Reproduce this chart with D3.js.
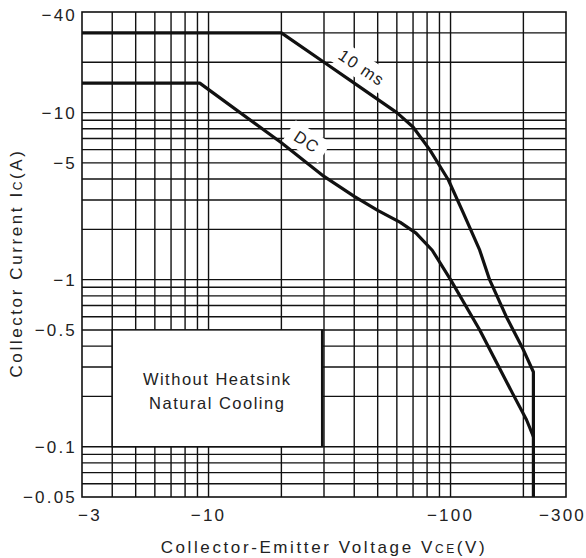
<!DOCTYPE html>
<html>
<head>
<meta charset="UTF-8">
<title>Safe Operating Area</title>
<style>
    body {
        margin: 0;
        background-color: white;
    }
    svg {
        display: block;
        font-family: "Liberation Sans", Arial, sans-serif;
    }
</style>
</head>
<body>
<svg></svg>
<script src="https://d3js.org/d3.v7.min.js"></script>
<script>
    // |VCE| in volts and |IC| in amps
    let pulseV = [3, 20, 30, 40, 50, 60, 70, 82, 98, 113, 132, 145, 170, 200, 220, 220];
    let pulseI = [30, 30, 20, 15, 12, 10, 8.2, 6.0, 3.95, 2.5, 1.5, 1.0, 0.6, 0.38, 0.28, 0.05];
    let dcV = [3, 9.2, 20, 30, 40, 50, 62, 72, 84, 100, 132, 180, 206, 220];
    let dcI = [15, 15, 6.6, 4.15, 3.15, 2.6, 2.2, 1.9, 1.5, 1.0, 0.5, 0.21, 0.145, 0.115];

    let xTicks = [3, 10, 100, 300];
    let yTicks = [40, 10, 5, 1, 0.5, 0.1, 0.05];
    let xGrid = [4, 5, 6, 7, 8, 9, 10, 20, 30, 40, 50, 60, 70, 80, 90, 100, 200];
    let yGrid = [0.06, 0.07, 0.08, 0.09, 0.1, 0.2, 0.3, 0.4, 0.5, 0.6, 0.7, 0.8, 0.9,
                 1, 2, 3, 4, 5, 6, 7, 8, 9, 10, 20, 30];

    let width = 586, height = 558;
    let ink = "#111";

    let svg = d3.select("svg")
        .attr("width", width)
        .attr("height", height);

    let x = d3.scaleLog().domain([3, 300]).range([82, 566]);
    let y = d3.scaleLog().domain([0.05, 40]).range([497, 12]);

    let fmt = v => "\u2212" + v;

    // grid
    let grid = svg.append("g")
        .attr("stroke", ink)
        .attr("stroke-width", 1.4);

    grid.selectAll(".gx")
        .data(xGrid)
        .enter()
        .append("line")
        .attr("x1", d => x(d)).attr("x2", d => x(d))
        .attr("y1", y.range()[0]).attr("y2", y.range()[1]);

    grid.selectAll(".gy")
        .data(yGrid)
        .enter()
        .append("line")
        .attr("y1", d => y(d)).attr("y2", d => y(d))
        .attr("x1", x.range()[0]).attr("x2", x.range()[1]);

    svg.append("rect")
        .attr("x", x.range()[0])
        .attr("y", y.range()[1])
        .attr("width", x.range()[1] - x.range()[0])
        .attr("height", y.range()[0] - y.range()[1])
        .attr("fill", "none")
        .attr("stroke", ink)
        .attr("stroke-width", 1.6);

    // note box
    svg.append("rect")
        .attr("x", x(4))
        .attr("y", y(0.5))
        .attr("width", x(29.5) - x(4))
        .attr("height", y(0.1) - y(0.5))
        .attr("fill", "white")
        .attr("stroke", ink)
        .attr("stroke-width", 1.4);
    svg.append("line")
        .attr("x1", x(29.5)).attr("x2", x(29.5))
        .attr("y1", y(0.5)).attr("y2", y(0.1))
        .attr("stroke", ink)
        .attr("stroke-width", 2.6);

    let note = svg.append("text")
        .attr("text-anchor", "middle")
        .attr("font-size", 16.5)
        .attr("letter-spacing", 1.5)
        .attr("fill", "#222");
    note.append("tspan")
        .attr("x", (x(4) + x(29.5)) / 2)
        .attr("y", 385)
        .text("Without Heatsink");
    note.append("tspan")
        .attr("x", (x(4) + x(29.5)) / 2)
        .attr("y", 409)
        .text("Natural Cooling");

    // curve labels sit on white patches that hide the grid
    let curveLabels = [
        { text: "10 ms", v: 43, i: 18.6, angle: 34, w: 64 },
        { text: "DC", v: 25.5, i: 6.7, angle: 33, w: 42 }
    ];
    let lab = svg.selectAll(".curvelabel")
        .data(curveLabels)
        .enter()
        .append("g")
        .attr("transform", d => "translate(" + x(d.v) + "," + y(d.i) + ") rotate(" + d.angle + ")");
    lab.append("rect")
        .attr("x", d => -d.w / 2)
        .attr("y", -12)
        .attr("width", d => d.w)
        .attr("height", 24)
        .attr("fill", "white");
    lab.append("text")
        .attr("text-anchor", "middle")
        .attr("dy", "0.36em")
        .attr("font-size", 16.5)
        .attr("letter-spacing", 1.4)
        .attr("fill", "#222")
        .text(d => d.text);

    // curves
    let line = d3.line()
        .x(d => x(d[0]))
        .y(d => y(d[1]));

    svg.append("path")
        .datum(d3.zip(pulseV, pulseI))
        .attr("d", line)
        .attr("fill", "none")
        .attr("stroke", ink)
        .attr("stroke-width", 3.2)
        .attr("stroke-linejoin", "round");

    svg.append("path")
        .datum(d3.zip(dcV, dcI))
        .attr("d", line)
        .attr("fill", "none")
        .attr("stroke", ink)
        .attr("stroke-width", 3.2)
        .attr("stroke-linejoin", "round");

    // tick labels
    svg.append("g")
        .selectAll("text")
        .data(yTicks)
        .enter()
        .append("text")
        .attr("x", 77)
        .attr("y", d => Math.max(y(d), 15))
        .attr("dy", "0.36em")
        .attr("text-anchor", "end")
        .attr("font-size", 17)
        .attr("letter-spacing", 2.2)
        .attr("fill", "#222")
        .text(fmt);

    svg.append("g")
        .selectAll("text")
        .data(xTicks)
        .enter()
        .append("text")
        .attr("x", d => x(d))
        .attr("y", 521)
        .attr("text-anchor", "middle")
        .attr("font-size", 17)
        .attr("letter-spacing", 2.2)
        .attr("fill", "#222")
        .text(fmt)
        .each(function (d) {
            let w = this.getComputedTextLength();
            let cx = Math.max(78 + w / 2, Math.min(width - w / 2, x(d)));
            d3.select(this).attr("x", cx);
        });

    // axis titles
    let xt = svg.append("text")
        .attr("x", (x.range()[0] + x.range()[1]) / 2)
        .attr("y", 553)
        .attr("text-anchor", "middle")
        .attr("font-size", 17)
        .attr("letter-spacing", 2.6)
        .attr("fill", "#222");
    xt.append("tspan").text("Collector-Emitter Voltage V");
    xt.append("tspan").attr("font-size", 12).text("CE");
    xt.append("tspan").text("(V)");

    let yt = svg.append("text")
        .attr("transform", "translate(22,263) rotate(-90)")
        .attr("text-anchor", "middle")
        .attr("font-size", 17)
        .attr("letter-spacing", 2.6)
        .attr("fill", "#222");
    yt.append("tspan").text("Collector Current I");
    yt.append("tspan").attr("font-size", 12).text("C");
    yt.append("tspan").text("(A)");
</script>
</body>
</html>
